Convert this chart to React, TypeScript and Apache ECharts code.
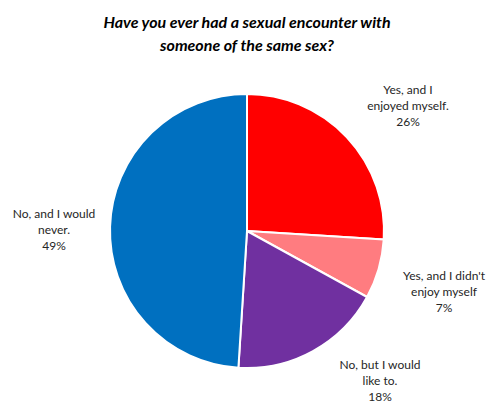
import React, { useEffect, useRef } from "react";
import * as echarts from "echarts";

const TITLE_LINES = ["Have you ever had a sexual encounter with", "someone of the same sex?"];
const CATEGORIES = [
  "Yes, and I\nenjoyed myself.",
  "Yes, and I didn't\nenjoy myself",
  "No, but I would\nlike to.",
  "No, and I would\nnever.",
];
const VALUES = [26, 7, 18, 49];
const COLORS = ["#FF0000", "#FF7C80", "#7030A0", "#0070C0"];

// label offsets relative to pie centre (layout, not data)
const LABEL_OFFSETS: [number, number][] = [
  [161, -126],
  [197, 60],
  [133, 149],
  [-193, -2],
];

const CX = 247;
const CY = 231;
const R = 137;

export default function App() {
  const ref = useRef<HTMLDivElement>(null);
  useEffect(() => {
    document.body.style.margin = "0";
    const chart = echarts.init(ref.current!, undefined, { renderer: "svg" });
    chart.setOption({
      animation: false,
      backgroundColor: "#ffffff",
      title: {
        text: TITLE_LINES.join("\n"),
        left: "center",
        top: 5,
        textStyle: {
          fontFamily: "Lato",
          fontStyle: "italic",
          fontWeight: "bold",
          fontSize: 16,
          lineHeight: 23,
          color: "#000000",
          align: "center",
        },
      },
      series: [
        {
          type: "pie",
          center: [CX, CY],
          radius: R,
          startAngle: 90,
          clockwise: true,
          data: CATEGORIES.map((name, i) => ({
            name,
            value: VALUES[i],
            itemStyle: { color: COLORS[i] },
          })),
          itemStyle: { borderColor: "#ffffff", borderWidth: 2 },
          label: {
            show: true,
            position: "inside",
            formatter: (p: any) => `${p.name}\n${p.value}%`,
            fontFamily: "Lato",
            fontSize: 12,
            lineHeight: 16,
            color: "#262626",
            align: "center",
            overflow: "none",
          },
          labelLine: { show: false },
          labelLayout: (p: any) => {
            const o = LABEL_OFFSETS[p.dataIndex];
            return { x: CX + o[0], y: CY + o[1], align: "center", verticalAlign: "middle" };
          },
          emphasis: { disabled: true },
        },
      ],
    });
    return () => chart.dispose();
  }, []);
  return <div ref={ref} style={{ width: 494, height: 406 }} />;
}
